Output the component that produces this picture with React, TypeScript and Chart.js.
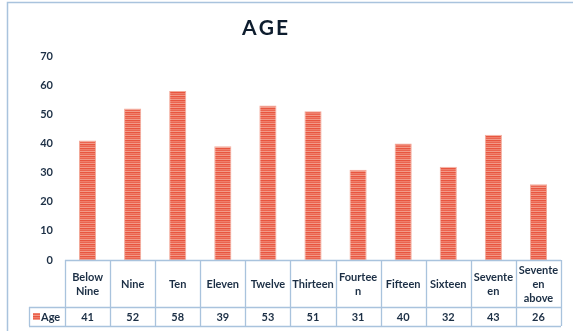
import React, { useEffect, useRef } from "react";
import { Chart, registerables } from "chart.js";

Chart.register(...registerables);

const TITLE = "AGE";
const SERIES_NAME = "Age";
const CATEGORIES = [
  "Below\nNine",
  "Nine",
  "Ten",
  "Eleven",
  "Twelve",
  "Thirteen",
  "Fourtee\nn",
  "Fifteen",
  "Sixteen",
  "Sevente\nen",
  "Sevente\nen\nabove",
];
const AGE_VALUES = [41, 52, 58, 39, 53, 51, 31, 40, 32, 43, 26];
const Y_MIN = 0;
const Y_MAX = 70;
const Y_STEP = 10;

const TEXT_COLOR = "#1c2f45";
const LINE_COLOR = "#a9c3dd";
const FONT = "Lato";

function makePattern(): CanvasPattern | string {
  const c = document.createElement("canvas");
  c.width = 4;
  c.height = 4;
  const g = c.getContext("2d");
  if (!g) return "#ec6a55";
  const rows = ["#e8553f", "#ef7f6b", "#eb6450", "#f29a88"];
  rows.forEach((col, i) => {
    g.fillStyle = col;
    g.fillRect(0, i, 4, 1);
  });
  const p = g.createPattern(c, "repeat");
  return p || "#ec6a55";
}

const tablePlugin = {
  id: "tablePlugin",
  beforeDraw(chart: any) {
    const ctx = chart.ctx;
    ctx.save();
    ctx.fillStyle = "#ffffff";
    ctx.fillRect(0, 0, chart.width, chart.height);
    ctx.strokeStyle = LINE_COLOR;
    ctx.lineWidth = 1.5;
    ctx.beginPath();
    ctx.moveTo(7.5, chart.height + 5);
    ctx.lineTo(7.5, 2.5);
    ctx.lineTo(chart.width + 5, 2.5);
    ctx.stroke();
    ctx.restore();
  },
  afterDraw(chart: any) {
    const ctx = chart.ctx;
    const xs = chart.scales.x;
    const area = chart.chartArea;
    const n = CATEGORIES.length;
    const left = area.left;
    const right = area.right;
    const colW = (right - left) / n;
    const top = area.bottom;
    const mid = top + 47;
    const bot = top + 66;
    const legLeft = 29;

    ctx.save();
    ctx.strokeStyle = LINE_COLOR;
    ctx.lineWidth = 1.3;
    ctx.beginPath();
    ctx.moveTo(left, top + 0.5);
    ctx.lineTo(right, top + 0.5);
    ctx.moveTo(legLeft, mid + 0.5);
    ctx.lineTo(right, mid + 0.5);
    ctx.moveTo(legLeft, bot + 0.5);
    ctx.lineTo(right, bot + 0.5);
    ctx.moveTo(legLeft + 0.5, mid);
    ctx.lineTo(legLeft + 0.5, bot);
    for (let i = 0; i <= n; i++) {
      const x = Math.round(left + i * colW) + 0.5;
      ctx.moveTo(x, top);
      ctx.lineTo(x, bot);
    }
    ctx.stroke();

    ctx.fillStyle = TEXT_COLOR;
    ctx.font = `bold 11px ${FONT}`;
    ctx.textAlign = "center";
    ctx.textBaseline = "middle";
    const lineH = 14;
    CATEGORIES.forEach((label, i) => {
      const cx = xs.getPixelForValue(i);
      const lines = label.split("\n");
      const cy = (top + mid) / 2 + 1;
      const start = cy - ((lines.length - 1) * lineH) / 2;
      lines.forEach((ln, j) => ctx.fillText(ln, cx, start + j * lineH));
      ctx.fillText(String(AGE_VALUES[i]), cx, (mid + bot) / 2 + 1);
    });

    const pat = chart.data.datasets[0].backgroundColor;
    ctx.fillStyle = pat;
    ctx.fillRect(33, mid + 6, 7, 7);
    ctx.fillStyle = TEXT_COLOR;
    ctx.textAlign = "left";
    ctx.fillText(SERIES_NAME, 41, (mid + bot) / 2 + 0.5);

    ctx.font = `bold 21px ${FONT}`;
    ctx.textAlign = "center";
    ctx.fillStyle = "#0e1d2e";
    const letters = TITLE.split("");
    const spacing = 2;
    const widths = letters.map((l) => ctx.measureText(l).width);
    const total = widths.reduce((a, b) => a + b, 0) + spacing * (letters.length - 1);
    let x = 265 - total / 2;
    ctx.textAlign = "left";
    letters.forEach((l, i) => {
      ctx.fillText(l, x, 28);
      x += widths[i] + spacing;
    });
    ctx.restore();
  },
};

export default function App() {
  const ref = useRef<HTMLCanvasElement | null>(null);
  useEffect(() => {
    document.body.style.margin = "0";
    const canvas = ref.current;
    if (!canvas) return;
    const pattern = makePattern();
    const chart = new Chart(canvas, {
      type: "bar",
      data: {
        labels: CATEGORIES,
        datasets: [
          {
            label: SERIES_NAME,
            data: AGE_VALUES,
            backgroundColor: pattern as any,
            borderColor: "#f3ab9c",
            borderWidth: 1,
            barPercentage: 0.38,
            categoryPercentage: 1,
          },
        ],
      },
      options: {
        responsive: false,
        animation: false,
        layout: { padding: { left: 0, right: 12, top: 56, bottom: 71 } },
        plugins: {
          legend: { display: false },
          title: { display: false },
          tooltip: { enabled: false },
        },
        scales: {
          x: {
            display: false,
            offset: true,
          },
          y: {
            min: Y_MIN,
            max: Y_MAX,
            ticks: {
              stepSize: Y_STEP,
              color: TEXT_COLOR,
              font: { family: FONT, size: 11, weight: "bold" },
              padding: 12,
            },
            grid: { display: false, drawTicks: false },
            border: { display: false },
            afterFit(scale: any) {
              scale.width = 65;
            },
          },
        },
      },
      plugins: [tablePlugin],
    });
    return () => chart.destroy();
  }, []);
  return (
    <div style={{ position: "absolute", left: 0, top: 0, width: 573, height: 331 }}>
      <canvas ref={ref} width={573} height={331} />
    </div>
  );
}
